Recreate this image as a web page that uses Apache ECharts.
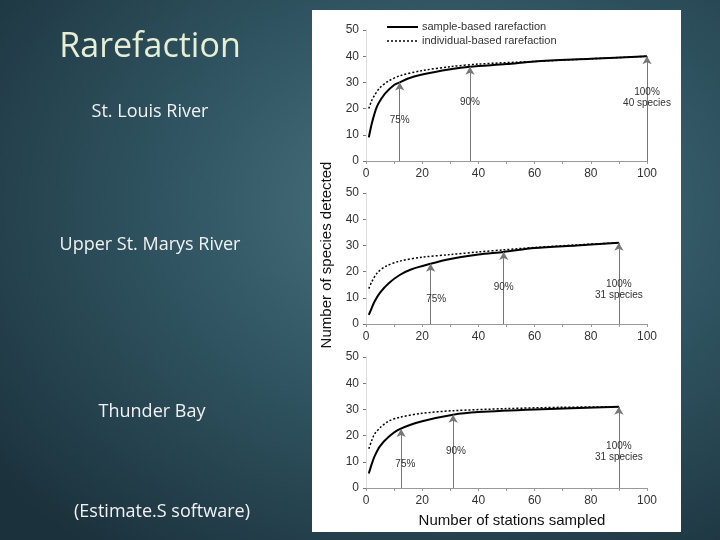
<!DOCTYPE html>
<html><head><meta charset="utf-8">
<script src="https://cdn.jsdelivr.net/npm/echarts@6/dist/echarts.min.js"></script>
<style>html,body{margin:0;padding:0;width:720px;height:540px;overflow:hidden;
background:radial-gradient(ellipse 90% 90% at 62% 38%, #4d7683 0%, #2f5360 45%, #1b313c 90%);}
#c{width:720px;height:540px;}</style></head>
<body><div id="c"></div>
<script>
const panelTitles = ['St. Louis River','Upper St. Marys River','Thunder Bay'];
const legendNames = ['sample-based rarefaction','individual-based rarefaction'];
const sample1 = [[1,9],[2,14],[3,18],[4,21],[5,23],[7,26],[10,29],[12,30],[15,31.5],[20,33],[30,35],[37,36],[50,37],[60,38],[80,39],[100,40]];
const indiv1 = [[1,20],[2,23],[3,25],[5,28],[8,30.5],[12,32.5],[20,34.5],[30,36],[40,37],[60,38],[80,39],[100,40]];
const sample2 = [[1,3.5],[2,6],[3,8.5],[5,12],[8,15.5],[12,18.7],[16,20.8],[23,23],[30,24.8],[40,26.5],[49,27.5],[60,29],[75,30],[90,31]];
const indiv2 = [[1,13.5],[2,16],[4,19.5],[7,22],[12,24],[20,25.5],[30,26.5],[40,27.5],[49,28.3],[60,29.2],[75,30.2],[90,31]];
const sample3 = [[1,5.5],[2,9],[3,12],[5,16],[8,19.5],[12,22.5],[20,25.5],[31,28],[40,29],[60,30],[90,31]];
const indiv3 = [[1,15],[2,18],[3,20.5],[5,23],[8,25.5],[12,27],[20,28.5],[31,29.5],[50,30.3],[70,30.8],[90,31]];
const arrows1 = [[12,30],[37,36],[100,40]];
const arrows2 = [[23,23],[49,27.5],[90,31]];
const arrows3 = [[12.5,22.5],[31,28],[90,31]];
const notes1 = [[12,15.5,'75%'],[37,22.5,'90%'],[100,24,'100%\n40 species']];
const notes2 = [[25,9.5,'75%'],[49,14,'90%'],[90,13,'100%\n31 species']];
const notes3 = [[14,9,'75%'],[32,14,'90%'],[90,14,'100%\n31 species']];

const samples=[sample1,sample2,sample3], indivs=[indiv1,indiv2,indiv3], arrows=[arrows1,arrows2,arrows3], notes=[notes1,notes2,notes3];
const tops=[30,193,357];
const F='Liberation Sans';
const grids=[],xA=[],yA=[],series=[];
for(let i=0;i<3;i++){
  grids.push({left:366,width:281,top:tops[i],height:131});
  xA.push({type:'value',gridIndex:i,min:0,max:100,interval:20,
    axisLine:{lineStyle:{color:'#999'}},axisTick:{lineStyle:{color:'#999'},length:3},
    minorTick:{show:true,splitNumber:2,length:3,lineStyle:{color:'#999'}},
    splitLine:{show:false},axisLabel:{color:'#333',fontFamily:F,fontSize:12,margin:7}});
  yA.push({type:'value',gridIndex:i,min:0,max:50,interval:10,
    axisLine:{show:true,lineStyle:{color:'#ddd'}},axisTick:{show:true,inside:false,length:3,lineStyle:{color:'#777'}},
    splitLine:{show:false},axisLabel:{color:'#333',fontFamily:F,fontSize:12,margin:7}});
  series.push({name:legendNames[0],type:'line',xAxisIndex:i,yAxisIndex:i,data:samples[i],smooth:0.3,
    showSymbol:false,lineStyle:{color:'#000',width:2},itemStyle:{color:'#000'},z:3,
    markLine:{silent:true,symbol:['none','arrow'],symbolSize:[7,8],
      lineStyle:{color:'#777',width:1,type:'solid'},label:{show:false},
      data:arrows[i].map(a=>[{coord:[a[0],0]},{coord:[a[0],a[1]]}])},
    markPoint:{symbolSize:0,silent:true,
      label:{show:true,color:'#333',fontFamily:F,fontSize:10,lineHeight:11,formatter:p=>p.data.t},
      data:notes[i].map(n=>({coord:[n[0],n[1]],t:n[2]}))}});
  series.push({name:legendNames[1],type:'line',xAxisIndex:i,yAxisIndex:i,data:indivs[i],smooth:0.3,
    showSymbol:false,lineStyle:{color:'#000',width:1.5,type:[2,2]},itemStyle:{color:'#000'},z:2});
}
const txt=(t,x,y,size,fill,fam)=>({type:'text',x:x,y:y,style:{text:t,align:'center',verticalAlign:'middle',fontFamily:fam||'Open Sans',fontSize:size,fill:fill}});
const chart=echarts.init(document.getElementById('c'));
chart.setOption({
  animation:false,
  grid:grids,xAxis:xA,yAxis:yA,series:series,
  graphic:[
    {type:'rect',shape:{x:312,y:10,width:369,height:522},style:{fill:'#fff'},z:-10},
    txt('Rarefaction',150,47,34,'#e6efd6'),
    txt(panelTitles[0],150,112,18,'#f2f2f2'),
    txt(panelTitles[1],150,245,18,'#f2f2f2'),
    txt(panelTitles[2],152,412,18,'#f2f2f2'),
    txt('(Estimate.S software)',162,512,18,'#f2f2f2'),
    {type:'text',rotation:Math.PI/2,x:327,y:255,style:{text:'Number of species detected',align:'center',verticalAlign:'middle',fontFamily:F,fontSize:15,fill:'#111'}},
    txt('Number of stations sampled',512,521,15,'#111',F),
    {type:'line',shape:{x1:387,y1:27,x2:418,y2:27},style:{stroke:'#000',lineWidth:2}},
    {type:'line',shape:{x1:387,y1:41,x2:418,y2:41},style:{stroke:'#000',lineWidth:1.5,lineDash:[2,2]}},
    {type:'text',x:422,y:27,style:{text:legendNames[0],verticalAlign:'middle',fontFamily:F,fontSize:11,fill:'#333'}},
    {type:'text',x:422,y:41,style:{text:legendNames[1],verticalAlign:'middle',fontFamily:F,fontSize:11,fill:'#333'}}
  ]
});
</script></body></html>
